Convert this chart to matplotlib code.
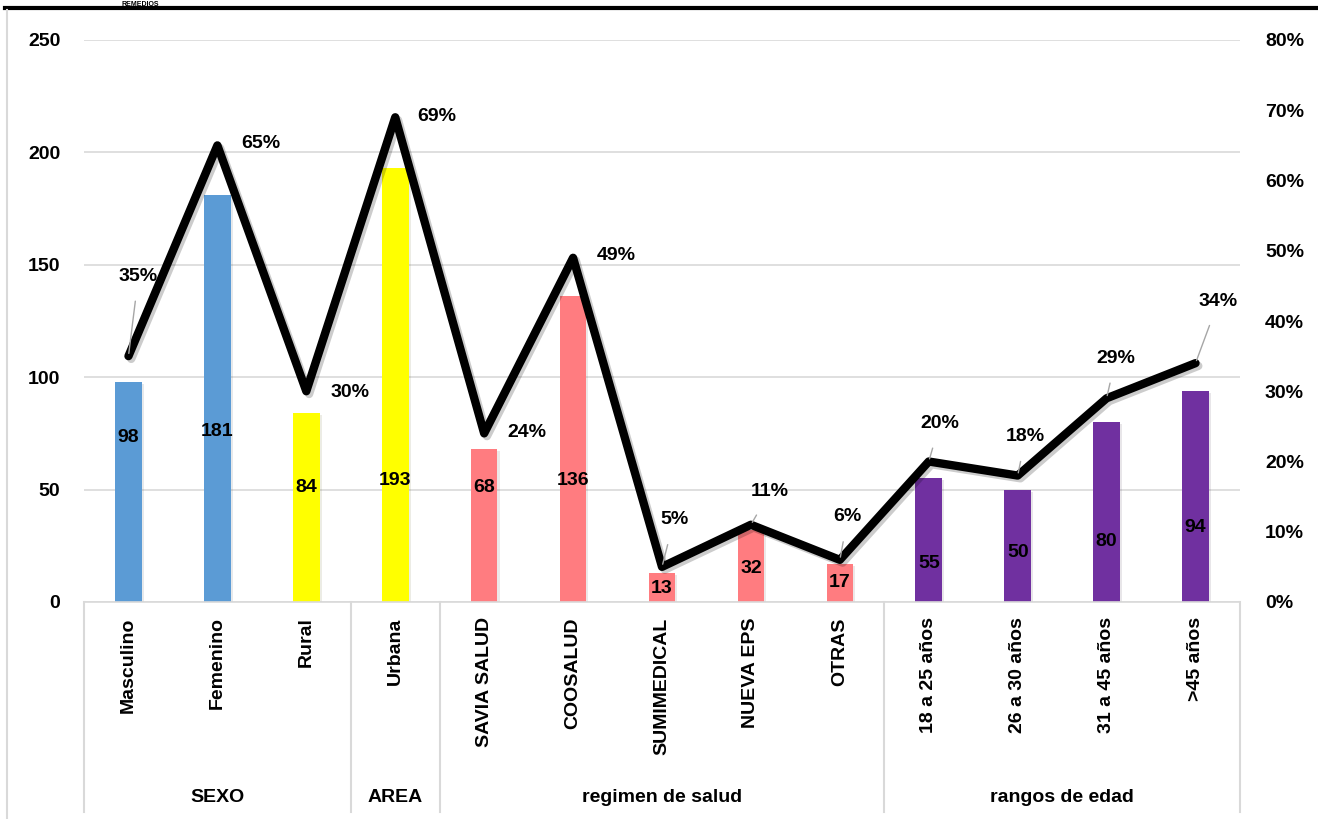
import numpy as np
import matplotlib.pyplot as plt
import matplotlib.patheffects as pe
from matplotlib.ticker import PercentFormatter
import matplotlib.transforms as mtransforms

plt.rcParams['font.family'] = ['Liberation Sans', 'DejaVu Sans']
plt.rcParams['font.weight'] = 'bold'

# datos
categorias = ['Masculino', 'Femenino', 'Rural', 'Urbana', 'SAVIA SALUD', 'COOSALUD',
              'SUMIMEDICAL', 'NUEVA EPS', 'OTRAS', '18 a 25 años', '26 a 30 años',
              '31 a 45 años', '>45 años']
cantidad = [98, 181, 84, 193, 68, 136, 13, 32, 17, 55, 50, 80, 94]
porcentaje = [35, 65, 30, 69, 24, 49, 5, 11, 6, 20, 18, 29, 34]
grupos = ['SEXO', 'AREA', 'regimen de salud', 'rangos de edad']
grupo_tam = [3, 1, 5, 4]

colores = ['#5B9BD5', '#5B9BD5', '#FFFF00', '#FFFF00'] + ['#FF7C80'] * 5 + ['#7030A0'] * 4

# altura de las etiquetas de las barras (eje izquierdo)
y_etq_barra = [73, 76, 51, 54, 51, 54, 6, 15, 8.5, 17, 22, 27, 33]
# desplazamiento (px) de las etiquetas de porcentaje y si llevan linea guia
desp_pct = [(10, 80), (43, 2), (44, -1), (42, 1), (43, 1), (43, 2), (12, 47), (19, 33),
            (8, 43), (11, 38), (8, 39), (9, 40), (23, 62)]
guia = [True, False, False, False, False, False, True, True, True, True, True, True, True]

W, H = 1318, 819
fig = plt.figure(figsize=(W / 100, H / 100), dpi=100)
ax = fig.add_axes([84 / W, 1 - 602 / H, (1240 - 84) / W, (602 - 40) / H])
x = np.arange(len(categorias))

ax.bar(x, cantidad, width=0.3, color=colores, zorder=2,
       path_effects=[pe.SimplePatchShadow(offset=(1.5, -1.5), alpha=0.1), pe.Normal()])
for xi, v, yl in zip(x, cantidad, y_etq_barra):
    ax.text(xi, yl, str(v), ha='center', va='center', fontsize=14, fontweight='bold', zorder=5)

ax.set_xlim(-0.5, len(categorias) - 0.5)
ax.set_ylim(0, 250)
ax.set_yticks(range(0, 251, 50))
ax.grid(axis='y', color='#d9d9d9', linewidth=1.2, zorder=0)
ax.tick_params(axis='y', length=0, pad=17, labelsize=14)
ax.tick_params(axis='x', length=0, pad=11, labelsize=14)
ax.set_xticks(x)
ax.set_xticklabels(categorias, rotation=90, fontweight='bold')
for lbl in ax.get_yticklabels():
    lbl.set_fontweight('bold')
for s in ['top', 'right', 'left']:
    ax.spines[s].set_visible(False)
ax.spines['bottom'].set_color('#d9d9d9')
ax.spines['bottom'].set_linewidth(1.2)

ax2 = ax.twinx()
ax2.set_ylim(0, 0.8)
ax2.set_yticks(np.arange(0, 0.81, 0.1))
ax2.yaxis.set_major_formatter(PercentFormatter(1.0, decimals=0))
ax2.tick_params(axis='y', length=0, pad=18, labelsize=14)
for lbl in ax2.get_yticklabels():
    lbl.set_fontweight('bold')
for s in ax2.spines.values():
    s.set_visible(False)

pct = np.array(porcentaje) / 100
ax2.plot(x, pct, color='black', linewidth=6, solid_joinstyle='round', solid_capstyle='round',
         zorder=3, path_effects=[pe.SimpleLineShadow(offset=(2, -2), alpha=0.2), pe.Normal()])
for xi, p, (dx, dy), g in zip(x, pct, desp_pct, guia):
    props = dict(arrowstyle='-', color='#a6a6a6', lw=1, shrinkA=10, shrinkB=2) if g else None
    ax2.annotate(f'{int(round(p * 100))}%', (xi, p), xytext=(dx, dy), textcoords='offset pixels',
                 ha='center', va='center', fontsize=14, fontweight='bold', arrowprops=props, zorder=6)

# separadores y nombres de grupo bajo el eje
tr = mtransforms.blended_transform_factory(ax.transData, ax.transAxes)
y_fondo = -(812 - 602) / (602 - 40)
y_grupo = -(797 - 602) / (602 - 40)
bordes = np.concatenate([[0], np.cumsum(grupo_tam)]) - 0.5
for b in bordes:
    ax.plot([b, b], [0, y_fondo], transform=tr, color='#d9d9d9', lw=1.5, clip_on=False)
for g, a, b in zip(grupos, bordes[:-1], bordes[1:]):
    ax.text((a + b) / 2, y_grupo, g, transform=tr, ha='center', va='center',
            fontsize=14, fontweight='bold')

# marco superior e izquierdo del grafico
fig.add_artist(plt.Line2D([5 / W, 1], [1 - 8 / H, 1 - 8 / H], color='black', lw=3))
fig.add_artist(plt.Line2D([7 / W, 7 / W], [0, 1 - 10 / H], color='#d9d9d9', lw=1.5))
fig.text(140 / W, 1 - 4 / H, 'REMEDIOS', ha='center', va='center', fontsize=5, fontweight='bold')

fig.savefig('out.png', dpi=100)
